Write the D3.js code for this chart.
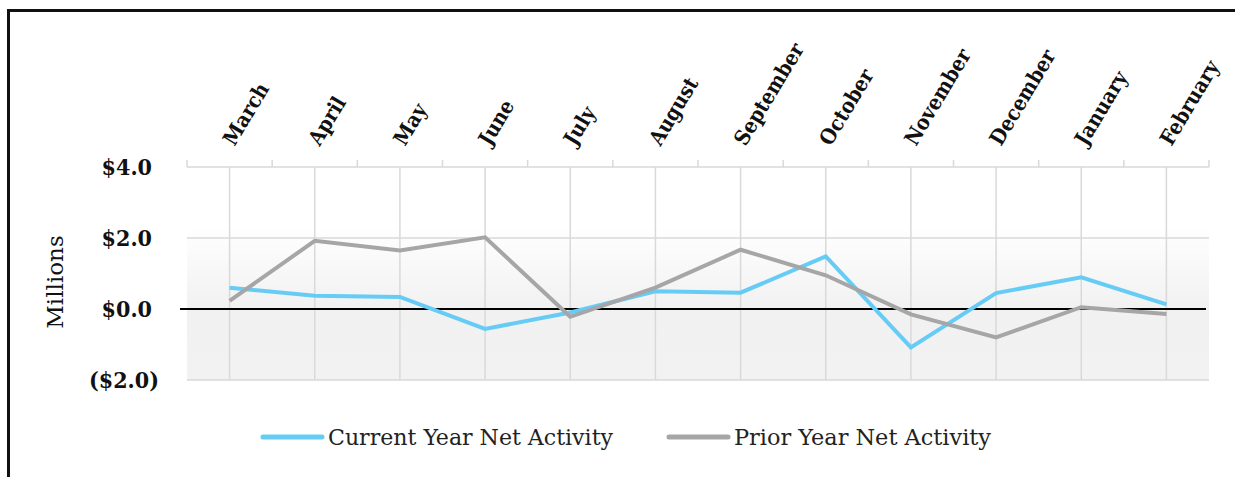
<!DOCTYPE html>
<html>
<head>
<meta charset="utf-8">
<script src="https://cdn.jsdelivr.net/npm/d3@7"></script>
<style>
  body { margin: 0; background: #fff; }
  svg { display: block; }
</style>
</head>
<body>
<svg id="chart" width="1235" height="477"></svg>
<script>
// months along the top axis
const months = ['March', 'April', 'May', 'June', 'July', 'August', 'September',
  'October', 'November', 'December', 'January', 'February']
// net activity, in millions
const currentYear = [0.6, 0.37, 0.34, -0.56, -0.1, 0.5, 0.46, 1.48, -1.08, 0.45, 0.89, 0.13]
const priorYear = [0.23, 1.92, 1.65, 2.02, -0.22, 0.6, 1.67, 0.95, -0.15, -0.8, 0.05, -0.14]
const yTicks = [-2, 0, 2, 4]

const seriesList = [
  { name: 'Current Year Net Activity', values: currentYear, color: '#66ccf5' },
  { name: 'Prior Year Net Activity', values: priorYear, color: '#a6a6a6' }
]

const svg = d3.select('#chart')
const plotLeft = 187
const plotRight = 1209
const plotTop = 167
const plotBottom = 380

const x = d3.scaleBand().domain(months).range([plotLeft, plotRight]).paddingInner(0).paddingOuter(0)
const y = d3.scaleLinear().domain([-2, 4]).range([plotBottom, plotTop])
const cx = d => x(d) + x.bandwidth() / 2

// frame
svg.append('path')
  .attr('d', `M8.5,480 V10.5 H1240`)
  .style('fill', 'none')
  .style('stroke', '#111')
  .style('stroke-width', 3)

// plot background gradient
const grad = svg.append('defs').append('linearGradient')
  .attr('id', 'bg').attr('x1', 0).attr('y1', 0).attr('x2', 0).attr('y2', 1)
grad.append('stop').attr('offset', 0).attr('stop-color', '#ffffff')
grad.append('stop').attr('offset', 0.28).attr('stop-color', '#ffffff')
grad.append('stop').attr('offset', 0.67).attr('stop-color', '#f1f1f1')
grad.append('stop').attr('offset', 1).attr('stop-color', '#f2f2f2')

svg.append('rect')
  .attr('x', plotLeft).attr('y', plotTop)
  .attr('width', plotRight - plotLeft).attr('height', plotBottom - plotTop)
  .style('fill', 'url(#bg)')

// horizontal gridlines
svg.append('g').selectAll('line').data(yTicks.filter(d => d !== 0)).enter().append('line')
  .attr('x1', plotLeft).attr('x2', plotRight)
  .attr('y1', d => y(d)).attr('y2', d => y(d))
  .style('stroke', '#d9d9d9').style('stroke-width', 1.5)

// vertical gridlines at month centres
svg.append('g').selectAll('line').data(months).enter().append('line')
  .attr('x1', cx).attr('x2', cx)
  .attr('y1', plotTop).attr('y2', plotBottom)
  .style('stroke', '#d9d9d9').style('stroke-width', 1.5)

// top category axis with tick marks on band edges
const edges = months.map(m => x(m)).concat([plotRight])
svg.append('g').selectAll('line').data(edges).enter().append('line')
  .attr('x1', d => d).attr('x2', d => d)
  .attr('y1', plotTop - 7).attr('y2', plotTop)
  .style('stroke', '#d9d9d9').style('stroke-width', 1.5)

svg.append('g').selectAll('text').data(months).enter().append('text')
  .attr('transform', d => `translate(${cx(d) + 5},${plotTop - 20}) rotate(-59)`)
  .attr('font-family', 'DejaVu Serif Condensed, DejaVu Serif, serif')
  .attr('font-weight', 'bold')
  .attr('font-size', '21px')
  .style('fill', '#111')
  .text(d => d)

// zero line
svg.append('line')
  .attr('x1', 180).attr('x2', 1206)
  .attr('y1', y(0)).attr('y2', y(0))
  .style('stroke', '#000').style('stroke-width', 2)

// y axis labels, accounting style
const fmt = d => d < 0 ? `($${Math.abs(d).toFixed(1)})` : `$${d.toFixed(1)}`
svg.append('g').selectAll('text').data(yTicks).enter().append('text')
  .attr('x', d => d < 0 ? 159 : 152)
  .attr('y', d => y(d))
  .attr('dy', '0.36em')
  .attr('text-anchor', 'end')
  .attr('font-family', 'DejaVu Serif Condensed, DejaVu Serif, serif')
  .attr('font-weight', 'bold')
  .attr('font-size', '23px')
  .style('fill', '#111')
  .text(fmt)

svg.append('text')
  .attr('transform', `translate(63,282) rotate(-90)`)
  .attr('text-anchor', 'middle')
  .attr('font-family', 'DejaVu Serif, serif')
  .attr('font-size', '23px')
  .style('fill', '#111')
  .text('Millions')

// series lines
const line = d3.line().x((d, i) => cx(months[i])).y(d => y(d))
svg.append('g').selectAll('path').data(seriesList).enter().append('path')
  .attr('d', d => line(d.values))
  .style('fill', 'none')
  .style('stroke', d => d.color)
  .style('stroke-width', 4)
  .style('stroke-linejoin', 'miter')

// legend
const legendX = [263, 669]
const legendW = [285, 257]
const legend = svg.append('g').selectAll('g').data(seriesList).enter().append('g')
  .attr('transform', (d, i) => `translate(${legendX[i]},437)`)
legend.append('line')
  .attr('x1', 0).attr('x2', 59).attr('y1', 0).attr('y2', 0)
  .style('stroke', d => d.color).style('stroke-width', 5).style('stroke-linecap', 'round')
legend.append('text')
  .attr('x', 65).attr('dy', '0.36em')
  .attr('font-family', 'DejaVu Serif Condensed, DejaVu Serif, serif')
  .attr('font-size', '23px')
  .attr('textLength', (d, i) => legendW[i])
  .attr('lengthAdjust', 'spacingAndGlyphs')
  .style('fill', '#222')
  .text(d => d.name)
</script>
</body>
</html>
